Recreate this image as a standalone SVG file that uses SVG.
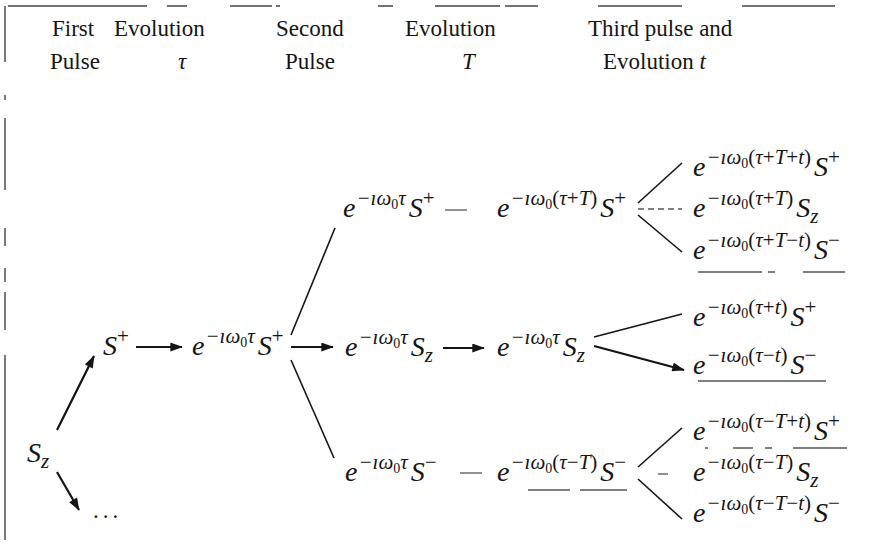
<svg xmlns="http://www.w3.org/2000/svg" width="869" height="553" viewBox="0 0 869 553">
<style>
.bg{fill:#fff}
.h{font-family:"Liberation Serif","Times New Roman",serif;font-size:23px;fill:#151515}
.hi{font-style:italic}
.m{font-family:"Liberation Serif","Times New Roman",serif;font-size:28px;font-style:italic;fill:#151515}
.s{font-size:21px}
.ss{font-size:14px}
.n{font-style:normal}
.ln{stroke:#151515;stroke-width:1.6;fill:none}
.ar{stroke:#151515;stroke-width:2.2;fill:none}
.fd{stroke:#555;stroke-width:1.3;fill:none}
.sc{stroke:#444;stroke-width:1.4;fill:none}
</style>
<defs>
<marker id="ah" viewBox="0 0 14 10" refX="13" refY="5" markerWidth="14" markerHeight="9" markerUnits="userSpaceOnUse" orient="auto">
<path d="M0,0 L14,5 L0,10 z" fill="#151515"/>
</marker>
</defs>
<rect class="bg" x="0" y="0" width="869" height="553"/>

<g id="scan-marks">
<path class="sc" d="M8,6 H147 M167,6 H187 M230,6 H272 M276,6 H280 M378,6 H393 M435,6 H500 M505,6 H538 M598,6 H682 M742,6 H835"/>
<path class="sc" d="M5,6 V62 M5,95 V100 M5,118 V190 M5,228 V246 M5,268 V282 M5,292 V330 M5,355 V540"/>
<path class="fd" d="M698,272 H762 M768,272 H775 M803,272 H845"/>
<path class="fd" d="M698,381 H826"/>
<path class="fd" d="M528,490 H570 M580,490 H627"/>
<path class="fd" d="M705,448 H708 M733,448 H753 M765,448 H772 M793,448 H847"/>
</g>

<g id="headers">
<text class="h" x="52" y="36">First</text>
<text class="h" x="50" y="69">Pulse</text>
<text class="h" x="114" y="36">Evolution</text>
<text class="h hi" x="178" y="69">τ</text>
<text class="h" x="276" y="36">Second</text>
<text class="h" x="285" y="69">Pulse</text>
<text class="h" x="405" y="36">Evolution</text>
<text class="h hi" x="462" y="69">T</text>
<text class="h" x="588" y="36">Third pulse and</text>
<text class="h" x="603" y="69">Evolution <tspan class="hi">t</tspan></text>
</g>

<g id="connectors">
<line class="ar" x1="57" y1="430" x2="94" y2="356" marker-end="url(#ah)"/>
<line class="ar" x1="57" y1="472" x2="79" y2="510" marker-end="url(#ah)"/>
<line class="ar" x1="136" y1="347" x2="182" y2="347" marker-end="url(#ah)"/>
<line class="ln" x1="291" y1="335" x2="335" y2="228"/>
<line class="ar" x1="291" y1="347" x2="333" y2="347" marker-end="url(#ah)"/>
<line class="ln" x1="291" y1="360" x2="334" y2="458"/>
<line class="fd" x1="445" y1="210" x2="467" y2="210"/>
<line class="ar" x1="443" y1="348" x2="484" y2="348" marker-end="url(#ah)"/>
<line class="fd" x1="460" y1="473" x2="482" y2="473"/>
<line class="ln" x1="638" y1="203" x2="682" y2="163"/>
<line class="fd" x1="638" y1="209" x2="682" y2="209" stroke-dasharray="6,4"/>
<line class="ln" x1="638" y1="215" x2="682" y2="252"/>
<line class="ln" x1="594" y1="337" x2="682" y2="314"/>
<line class="ar" x1="594" y1="346" x2="684" y2="370" marker-end="url(#ah)"/>
<line class="ln" x1="638" y1="467" x2="682" y2="428"/>
<line class="fd" x1="658" y1="474" x2="668" y2="474"/>
<line class="ln" x1="638" y1="479" x2="682" y2="519"/>
</g>

<g id="n-sz">
<text class="m" x="27" y="462">S<tspan class="s" dy="6">z</tspan></text>
</g>
<g id="n-dots">
<text class="h" x="93" y="518" letter-spacing="4">...</text>
</g>
<g id="n-splus">
<text class="m" x="103" y="355">S<tspan class="s n" dy="-12">+</tspan></text>
</g>
<g id="n-e-splus">
<text class="m" x="192" y="355">e<tspan class="s" dy="-12" dx="1">−ıω</tspan><tspan class="ss n" dy="4">0</tspan><tspan class="s" dy="-4">τ</tspan><tspan dx="3" dy="12">S</tspan><tspan class="s n" dy="-12">+</tspan></text>
</g>

<g id="n-up1">
<text class="m" x="343" y="217">e<tspan class="s" dy="-12" dx="1">−ıω</tspan><tspan class="ss n" dy="4">0</tspan><tspan class="s" dy="-4">τ</tspan><tspan dx="3" dy="12">S</tspan><tspan class="s n" dy="-12">+</tspan></text>
</g>
<g id="n-mid1">
<text class="m" x="345" y="356">e<tspan class="s" dy="-12" dx="1">−ıω</tspan><tspan class="ss n" dy="4">0</tspan><tspan class="s" dy="-4">τ</tspan><tspan dx="3" dy="12">S</tspan><tspan class="s" dy="6">z</tspan></text>
</g>
<g id="n-low1">
<text class="m" x="345" y="481">e<tspan class="s" dy="-12" dx="1">−ıω</tspan><tspan class="ss n" dy="4">0</tspan><tspan class="s" dy="-4">τ</tspan><tspan dx="3" dy="12">S</tspan><tspan class="s n" dy="-12">−</tspan></text>
</g>

<g id="n-up2">
<text class="m" x="497" y="217">e<tspan class="s" dy="-12" dx="1">−ıω</tspan><tspan class="ss n" dy="4">0</tspan><tspan class="s n" dy="-4">(</tspan><tspan class="s">τ</tspan><tspan class="s n">+</tspan><tspan class="s">T</tspan><tspan class="s n">)</tspan><tspan dx="3" dy="12">S</tspan><tspan class="s n" dy="-12">+</tspan></text>
</g>
<g id="n-mid2">
<text class="m" x="497" y="356">e<tspan class="s" dy="-12" dx="1">−ıω</tspan><tspan class="ss n" dy="4">0</tspan><tspan class="s" dy="-4">τ</tspan><tspan dx="3" dy="12">S</tspan><tspan class="s" dy="6">z</tspan></text>
</g>
<g id="n-low2">
<text class="m" x="497" y="481">e<tspan class="s" dy="-12" dx="1">−ıω</tspan><tspan class="ss n" dy="4">0</tspan><tspan class="s n" dy="-4">(</tspan><tspan class="s">τ</tspan><tspan class="s n">−</tspan><tspan class="s">T</tspan><tspan class="s n">)</tspan><tspan dx="3" dy="12">S</tspan><tspan class="s n" dy="-12">−</tspan></text>
</g>

<g id="n-r1">
<text class="m" x="693" y="176">e<tspan class="s" dy="-12" dx="1">−ıω</tspan><tspan class="ss n" dy="4">0</tspan><tspan class="s n" dy="-4">(</tspan><tspan class="s">τ</tspan><tspan class="s n">+</tspan><tspan class="s">T</tspan><tspan class="s n">+</tspan><tspan class="s">t</tspan><tspan class="s n">)</tspan><tspan dx="3" dy="12">S</tspan><tspan class="s n" dy="-12">+</tspan></text>
</g>
<g id="n-r2">
<text class="m" x="693" y="217">e<tspan class="s" dy="-12" dx="1">−ıω</tspan><tspan class="ss n" dy="4">0</tspan><tspan class="s n" dy="-4">(</tspan><tspan class="s">τ</tspan><tspan class="s n">+</tspan><tspan class="s">T</tspan><tspan class="s n">)</tspan><tspan dx="3" dy="12">S</tspan><tspan class="s" dy="6">z</tspan></text>
</g>
<g id="n-r3">
<text class="m" x="693" y="259">e<tspan class="s" dy="-12" dx="1">−ıω</tspan><tspan class="ss n" dy="4">0</tspan><tspan class="s n" dy="-4">(</tspan><tspan class="s">τ</tspan><tspan class="s n">+</tspan><tspan class="s">T</tspan><tspan class="s n">−</tspan><tspan class="s">t</tspan><tspan class="s n">)</tspan><tspan dx="3" dy="12">S</tspan><tspan class="s n" dy="-12">−</tspan></text>
</g>
<g id="n-r4">
<text class="m" x="693" y="326">e<tspan class="s" dy="-12" dx="1">−ıω</tspan><tspan class="ss n" dy="4">0</tspan><tspan class="s n" dy="-4">(</tspan><tspan class="s">τ</tspan><tspan class="s n">+</tspan><tspan class="s">t</tspan><tspan class="s n">)</tspan><tspan dx="3" dy="12">S</tspan><tspan class="s n" dy="-12">+</tspan></text>
</g>
<g id="n-r5">
<text class="m" x="693" y="374">e<tspan class="s" dy="-12" dx="1">−ıω</tspan><tspan class="ss n" dy="4">0</tspan><tspan class="s n" dy="-4">(</tspan><tspan class="s">τ</tspan><tspan class="s n">−</tspan><tspan class="s">t</tspan><tspan class="s n">)</tspan><tspan dx="3" dy="12">S</tspan><tspan class="s n" dy="-12">−</tspan></text>
</g>
<g id="n-r6">
<text class="m" x="693" y="440">e<tspan class="s" dy="-12" dx="1">−ıω</tspan><tspan class="ss n" dy="4">0</tspan><tspan class="s n" dy="-4">(</tspan><tspan class="s">τ</tspan><tspan class="s n">−</tspan><tspan class="s">T</tspan><tspan class="s n">+</tspan><tspan class="s">t</tspan><tspan class="s n">)</tspan><tspan dx="3" dy="12">S</tspan><tspan class="s n" dy="-12">+</tspan></text>
</g>
<g id="n-r7">
<text class="m" x="693" y="481">e<tspan class="s" dy="-12" dx="1">−ıω</tspan><tspan class="ss n" dy="4">0</tspan><tspan class="s n" dy="-4">(</tspan><tspan class="s">τ</tspan><tspan class="s n">−</tspan><tspan class="s">T</tspan><tspan class="s n">)</tspan><tspan dx="3" dy="12">S</tspan><tspan class="s" dy="6">z</tspan></text>
</g>
<g id="n-r8">
<text class="m" x="693" y="522">e<tspan class="s" dy="-12" dx="1">−ıω</tspan><tspan class="ss n" dy="4">0</tspan><tspan class="s n" dy="-4">(</tspan><tspan class="s">τ</tspan><tspan class="s n">−</tspan><tspan class="s">T</tspan><tspan class="s n">−</tspan><tspan class="s">t</tspan><tspan class="s n">)</tspan><tspan dx="3" dy="12">S</tspan><tspan class="s n" dy="-12">−</tspan></text>
</g>
</svg>
